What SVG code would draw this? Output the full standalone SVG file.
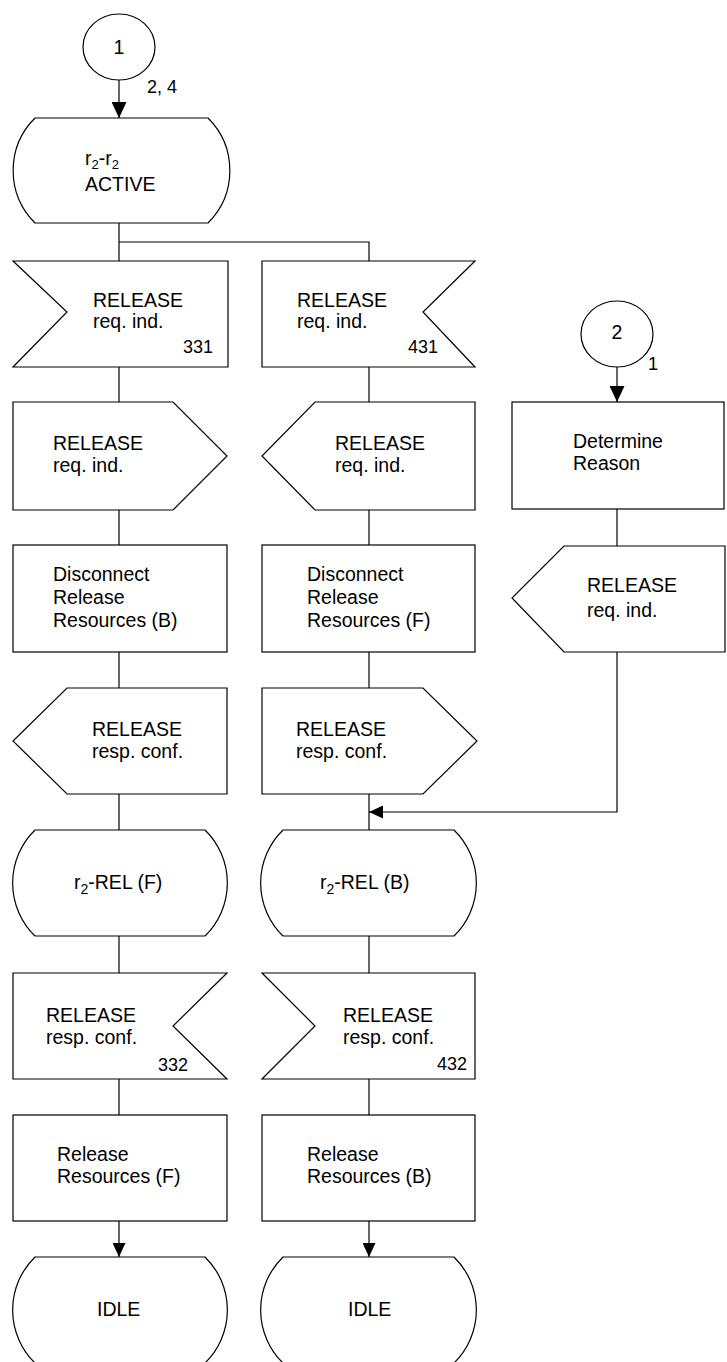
<svg xmlns="http://www.w3.org/2000/svg" width="727" height="1362" viewBox="0 0 727 1362">
<style>
.s{fill:#fff;stroke:#000;stroke-width:1.2}
.l{fill:none;stroke:#000;stroke-width:1.2}
text{font-family:"Liberation Sans",Arial,sans-serif;font-size:19.5px;fill:#000}
.n{font-size:18px}
.e{text-anchor:end;font-size:18px}
.sub{font-size:14px}
.sub2{font-size:13px}
</style>
<defs>
<marker id="ab" viewBox="0 0 16 15" refX="16" refY="7.5" markerWidth="16" markerHeight="15" orient="auto" markerUnits="userSpaceOnUse"><path d="M0,0 L16,7.5 L0,15 Z" fill="#000"/></marker>
<marker id="as" viewBox="0 0 14 13" refX="14" refY="6.5" markerWidth="14" markerHeight="13" orient="auto" markerUnits="userSpaceOnUse"><path d="M0,0 L14,6.5 L0,13 Z" fill="#000"/></marker>
</defs>
<rect width="727" height="1362" fill="#fff"/>
<g id="connectors">
<line class="l" x1="119" y1="80" x2="119" y2="118" marker-end="url(#ab)"/>
<polyline class="l" points="119,223 119,261"/>
<polyline class="l" points="119,242 369,242 369,261"/>
<line class="l" x1="119" y1="367" x2="119" y2="402"/>
<line class="l" x1="119" y1="510" x2="119" y2="545"/>
<line class="l" x1="119" y1="652" x2="119" y2="688"/>
<line class="l" x1="119" y1="794" x2="119" y2="830"/>
<line class="l" x1="119" y1="936" x2="119" y2="973"/>
<line class="l" x1="119" y1="1079" x2="119" y2="1115"/>
<line class="l" x1="119" y1="1221" x2="119" y2="1257" marker-end="url(#as)"/>
<line class="l" x1="369" y1="367" x2="369" y2="402"/>
<line class="l" x1="369" y1="510" x2="369" y2="545"/>
<line class="l" x1="369" y1="652" x2="369" y2="688"/>
<line class="l" x1="369" y1="794" x2="369" y2="830"/>
<line class="l" x1="369" y1="936" x2="369" y2="973"/>
<line class="l" x1="369" y1="1079" x2="369" y2="1115"/>
<line class="l" x1="369" y1="1221" x2="369" y2="1257" marker-end="url(#as)"/>
<line class="l" x1="617" y1="367" x2="617" y2="402" marker-end="url(#ab)"/>
<line class="l" x1="617" y1="509" x2="617" y2="546"/>
<polyline class="l" points="617,652 617,812 369,812" marker-end="url(#as)"/>
</g>
<g id="conn1">
<ellipse class="s" cx="119" cy="47" rx="36" ry="33"/>
<text x="119" y="54" text-anchor="middle">1</text>
<text class="n" x="147" y="93">2, 4</text>
</g>
<g id="active">
<path class="s" d="M35,118 H208 A74,74 0 0 1 208,223 H35 A74,74 0 0 1 35,118 Z"/>
<text x="85" y="165">r<tspan class="sub2" dy="4">2</tspan><tspan dy="-4">-r</tspan><tspan class="sub2" dy="4">2</tspan></text>
<text x="85" y="191">ACTIVE</text>
</g>
<g id="in331">
<polygon class="s" points="13,261 228,261 228,367 13,367 67,312"/>
<text x="93" y="307">RELEASE</text>
<text x="93" y="328">req. ind.</text>
<text class="e" x="213" y="353">331</text>
</g>
<g id="in431">
<polygon class="s" points="262,261 475,261 423,312 475,367 262,367"/>
<text x="297" y="307">RELEASE</text>
<text x="297" y="328">req. ind.</text>
<text class="e" x="438" y="353">431</text>
</g>
<g id="outL1">
<polygon class="s" points="13,402 173,402 227,456 173,510 13,510"/>
<text x="53" y="450">RELEASE</text>
<text x="53" y="472">req. ind.</text>
</g>
<g id="outR1">
<polygon class="s" points="315,402 475,402 475,510 315,510 262,456"/>
<text x="335" y="450">RELEASE</text>
<text x="335" y="472">req. ind.</text>
</g>
<g id="conn2">
<ellipse class="s" cx="617" cy="334" rx="36" ry="33"/>
<text x="617" y="339" text-anchor="middle">2</text>
<text class="n" x="648" y="370">1</text>
</g>
<g id="determine">
<rect class="s" x="512" y="402" width="212" height="107"/>
<text x="573" y="448">Determine</text>
<text x="573" y="470">Reason</text>
</g>
<g id="outRR">
<polygon class="s" points="564,546 725,546 725,652 564,652 512,598"/>
<text x="587" y="592">RELEASE</text>
<text x="587" y="617">req. ind.</text>
</g>
<g id="discB">
<rect class="s" x="13" y="545" width="214" height="107"/>
<text x="53" y="581">Disconnect</text>
<text x="53" y="604">Release</text>
<text x="53" y="627">Resources (B)</text>
</g>
<g id="discF">
<rect class="s" x="262" y="545" width="213" height="107"/>
<text x="307" y="581">Disconnect</text>
<text x="307" y="604">Release</text>
<text x="307" y="627">Resources (F)</text>
</g>
<g id="outL2">
<polygon class="s" points="67,688 227,688 227,794 67,794 13,741"/>
<text x="92" y="736">RELEASE</text>
<text x="92" y="758">resp. conf.</text>
</g>
<g id="outR2">
<polygon class="s" points="262,688 423,688 477,741 423,794 262,794"/>
<text x="296" y="736">RELEASE</text>
<text x="296" y="758">resp. conf.</text>
</g>
<g id="relF">
<path class="s" d="M35,830 H205 A74,74 0 0 1 205,936 H35 A74,74 0 0 1 35,830 Z"/>
<text x="74" y="889">r<tspan class="sub" dy="5">2</tspan><tspan dy="-5">-REL (F)</tspan></text>
</g>
<g id="relB">
<path class="s" d="M283,830 H454 A74,74 0 0 1 454,936 H283 A74,74 0 0 1 283,830 Z"/>
<text x="320" y="889">r<tspan class="sub" dy="5">2</tspan><tspan dy="-5">-REL (B)</tspan></text>
</g>
<g id="in332">
<polygon class="s" points="13,973 227,973 173,1026 227,1079 13,1079"/>
<text x="46" y="1022">RELEASE</text>
<text x="46" y="1044">resp. conf.</text>
<text class="e" x="188" y="1071">332</text>
</g>
<g id="in432">
<polygon class="s" points="262,973 475,973 475,1079 262,1079 315,1026"/>
<text x="343" y="1022">RELEASE</text>
<text x="343" y="1044">resp. conf.</text>
<text class="e" x="467" y="1070">432</text>
</g>
<g id="relResF">
<rect class="s" x="13" y="1115" width="214" height="106"/>
<text x="57" y="1161">Release</text>
<text x="57" y="1183">Resources (F)</text>
</g>
<g id="relResB">
<rect class="s" x="262" y="1115" width="213" height="106"/>
<text x="307" y="1161">Release</text>
<text x="307" y="1183">Resources (B)</text>
</g>
<g id="idleL">
<path class="s" d="M35,1257 H205 A74,74 0 0 1 205,1363 H35 A74,74 0 0 1 35,1257 Z"/>
<text x="97" y="1316">IDLE</text>
</g>
<g id="idleR">
<path class="s" d="M283,1257 H454 A74,74 0 0 1 454,1363 H283 A74,74 0 0 1 283,1257 Z"/>
<text x="348" y="1316">IDLE</text>
</g>
</svg>
